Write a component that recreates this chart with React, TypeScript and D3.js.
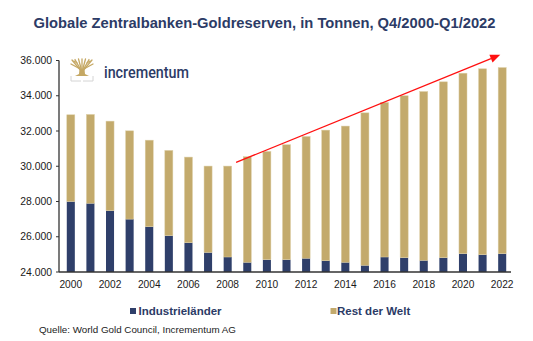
import React from 'react';
import * as d3 from 'd3';

const years = ['2000','2001','2002','2003','2004','2005','2006','2007','2008','2009','2010','2011','2012','2013','2014','2015','2016','2017','2018','2019','2020','2021','2022'];
const industrielaender = [28000, 27900, 27480, 27000, 26570, 26060, 25660, 25110, 24850, 24550, 24700, 24700, 24780, 24640, 24550, 24380, 24850, 24810, 24660, 24810, 25040, 24980, 25040];
const restDerWelt = [4920, 5040, 5080, 5010, 4910, 4840, 4860, 4900, 5160, 5990, 6140, 6520, 6910, 7410, 7730, 8650, 8770, 9190, 9580, 9980, 10240, 10550, 10560];
const seriesNames = ['Industrieländer', 'Rest der Welt'];
const seriesColors = ['#2f3f6a', '#c3aa6c'];
const yTicks = [24000, 26000, 28000, 30000, 32000, 34000, 36000];
const xTickLabels = ['2000','2002','2004','2006','2008','2010','2012','2014','2016','2018','2020','2022'];
const trendStart = { year: 2008.43, value: 30220 };
const trendEnd = { year: 2021.9, value: 36320 };
const title = 'Globale Zentralbanken-Goldreserven, in Tonnen, Q4/2000-Q1/2022';
const source = 'Quelle: World Gold Council, Incrementum AG';

const W = 533, H = 341;
const navy = '#2c3b66';

export default function App() {
  const x = d3.scaleBand<string>().domain(years).range([61, 512]).paddingInner(0.59).paddingOuter(0.295);
  const y = d3.scaleLinear().domain([24000, 36000]).range([272, 60.5]).clamp(true);
  const rows = years.map((yr, i) => ({ year: yr, ind: industrielaender[i], rest: restDerWelt[i] }));
  const stack = d3.stack<any>().keys(['ind', 'rest'])(rows);
  const fmt = d3.formatLocale({ decimal: ',', thousands: '.', grouping: [3], currency: ['', '€'] }).format(',.0f');
  const c0 = (x(years[0]) as number) + x.bandwidth() / 2;
  const cN = (x(years[years.length - 1]) as number) + x.bandwidth() / 2;
  const xc = d3.scaleLinear().domain([+years[0], +years[years.length - 1]]).range([c0, cN]);

  const yu = y.copy().clamp(false);
  const ax1 = xc(trendStart.year), ay1 = yu(trendStart.value);
  const ax2 = xc(trendEnd.year), ay2 = yu(trendEnd.value);
  const ang = Math.atan2(ay2 - ay1, ax2 - ax1);
  const hl = 10, hw = 4.2;
  const bx = ax2 - hl * Math.cos(ang), by = ay2 - hl * Math.sin(ang);
  const head = [
    [ax2, ay2],
    [bx + hw * Math.sin(ang), by - hw * Math.cos(ang)],
    [bx - hw * Math.sin(ang), by + hw * Math.cos(ang)],
  ];

  const font = 'Liberation Sans, Arial, sans-serif';

  return (
    <svg width={W} height={H} style={{ position: 'absolute', left: 0, top: 0, background: '#fff' }} fontFamily={font}>
      <text x={264.5} y={27.5} textAnchor="middle" fontSize={14.6} fontWeight="bold" fill={navy} textLength={462} lengthAdjust="spacingAndGlyphs">{title}</text>

      {/* logo */}
      <g>
        <g stroke="#c5a864" strokeWidth={1.3} fill="none" strokeLinecap="round">
          <path d="M82,72 L72,60" />
          <path d="M82,72 L75,59.5" />
          <path d="M82,72 L78.5,59" />
          <path d="M82,72 L82,59" />
          <path d="M82,72 L85.5,59" />
          <path d="M82,72 L89,59.5" />
          <path d="M82,72 L92,60" />
          <path d="M82,70 L71,64" />
          <path d="M82,70 L93,64" />
          <path d="M77,63 L74,61" />
          <path d="M87,63 L90,61" />
        </g>
        <path d="M79.5,69 L84.5,69 L85,74 L89,76 L75,76 L79,74 Z" fill="#c5a864" />
        <g stroke="#d4d4d4" strokeWidth={1} fill="none">
          <path d="M71,76 L71,81 L81,81" />
          <path d="M93,76 L93,81 L83,81" />
        </g>
        <text x={104} y={77.5} fontSize={16} fontWeight={500} fill={navy} fontFamily="Roboto, Liberation Sans, sans-serif" textLength={85} lengthAdjust="spacingAndGlyphs">incrementum</text>
      </g>

      {/* bars */}
      {stack.map((s, si) => (
        <g key={si} fill={seriesColors[si]}>
          {s.map((d: any, i: number) => (
            <rect key={i} x={x(years[i]) as number} width={x.bandwidth()} y={y(d[1])} height={y(d[0]) - y(d[1])}
              stroke={si === 1 ? '#ddd0a8' : 'none'} strokeWidth={si === 1 ? 0.5 : 0} />
          ))}
        </g>
      ))}

      {/* axes */}
      <line x1={59} x2={59} y1={y(36000)} y2={y(24000)} stroke="#333" strokeWidth={1.3} />
      {yTicks.map(t => (
        <g key={t}>
          <line x1={56} x2={59} y1={y(t)} y2={y(t)} stroke="#333" strokeWidth={1} />
          <text x={52} y={y(t) + 3.6} textAnchor="end" fontSize={10.4} fill="#1a1a1a">{fmt(t)}</text>
        </g>
      ))}
      <line x1={59} x2={511} y1={y(24000)} y2={y(24000)} stroke="#333" strokeWidth={1.5} />
      {xTickLabels.map(t => (
        <text key={t} x={(x(t) as number) + x.bandwidth() / 2} y={288} textAnchor="middle" fontSize={10.2} fill="#1a1a1a">{t}</text>
      ))}

      {/* trend arrow */}
      <line x1={ax1} y1={ay1} x2={bx} y2={by} stroke="#ff1010" strokeWidth={1.3} />
      <polygon points={head.map(p => p.join(',')).join(' ')} fill="#ff1010" />

      {/* legend */}
      <rect x={130} y={308} width={6} height={6} fill={seriesColors[0]} />
      <text x={138.5} y={315} fontSize={11.5} fontWeight="bold" fill={navy}>{seriesNames[0]}</text>
      <rect x={330.5} y={308} width={6} height={6} fill={seriesColors[1]} />
      <text x={337} y={315} fontSize={11.5} fontWeight="bold" fill={navy}>{seriesNames[1]}</text>

      <text x={39} y={332.5} fontSize={9.8} fill="#222">{source}</text>
    </svg>
  );
}
